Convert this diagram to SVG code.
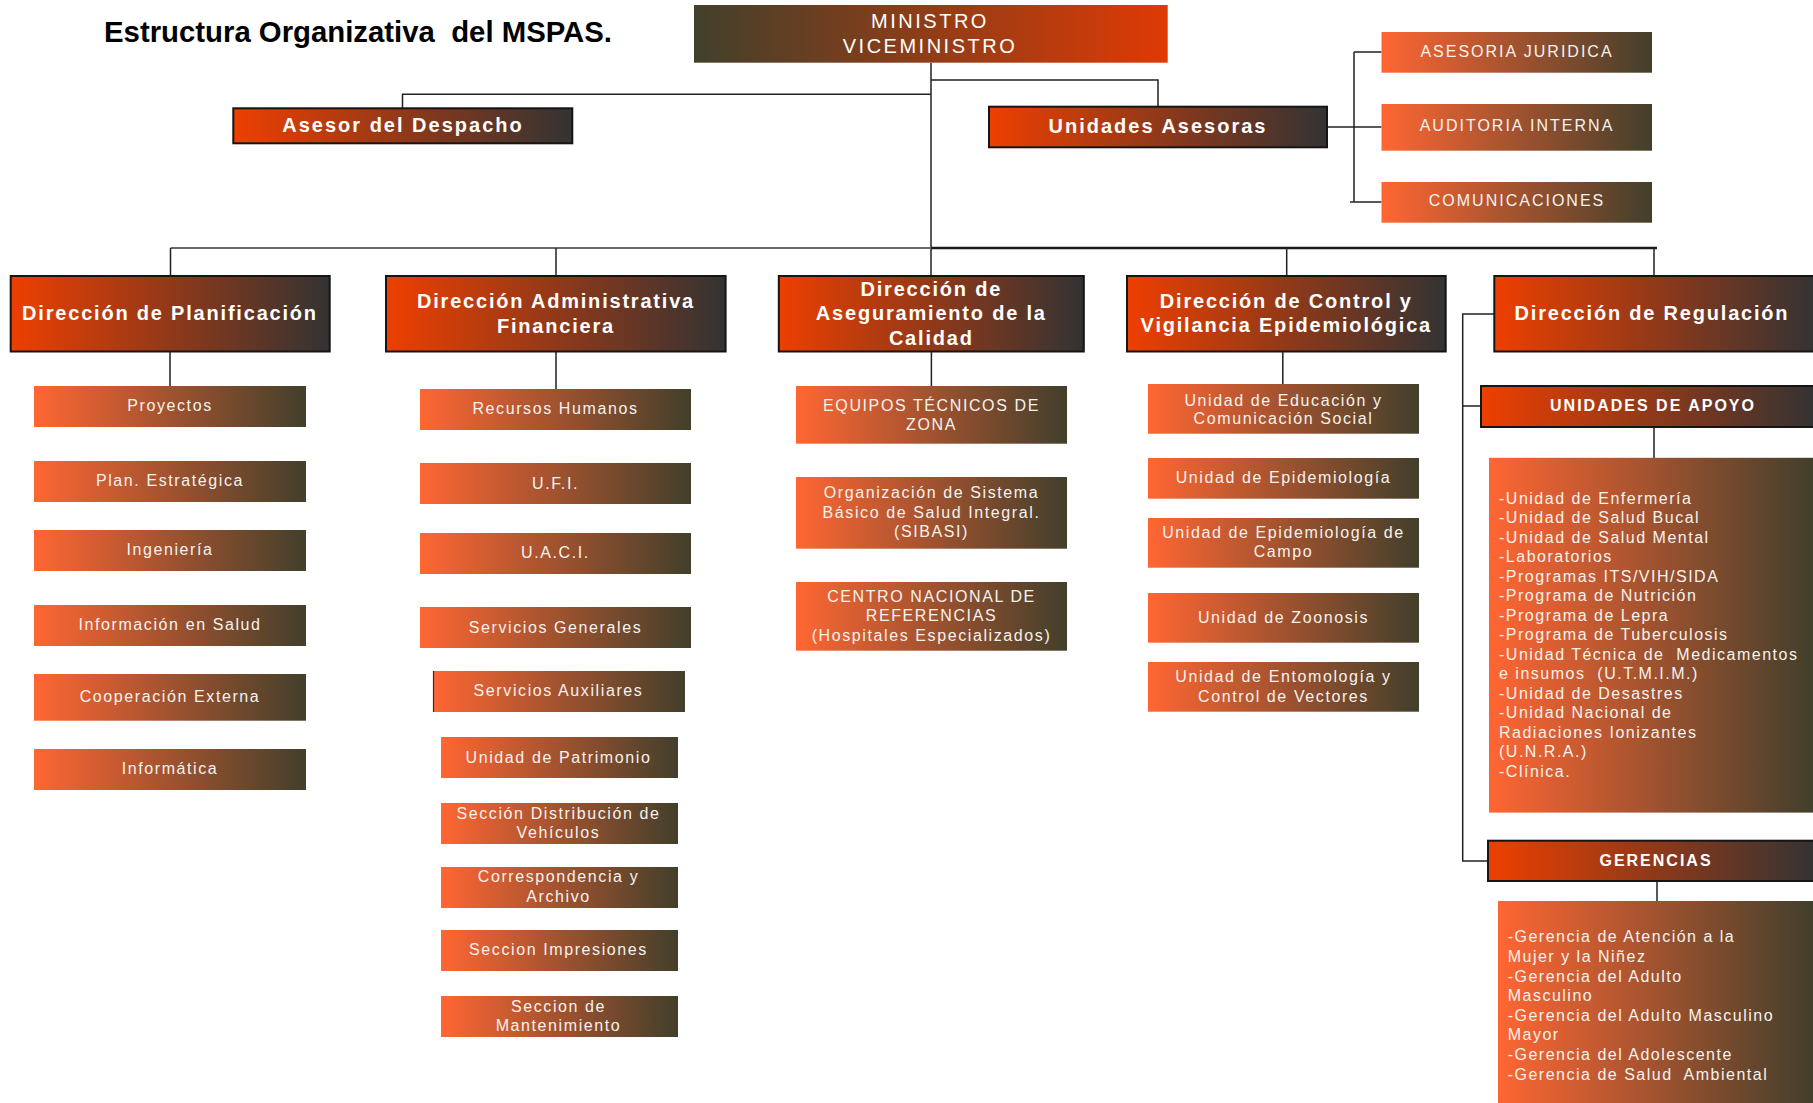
<svg xmlns="http://www.w3.org/2000/svg" width="1813" height="1103" viewBox="0 0 1813 1103">
<defs>
<linearGradient id="gO" x1="0" y1="0" x2="1" y2="0"><stop offset="0" stop-color="#ff6633"/><stop offset="1" stop-color="#423f2b"/></linearGradient>
<linearGradient id="gR" x1="0" y1="0" x2="1" y2="0"><stop offset="0" stop-color="#ee3f00"/><stop offset="1" stop-color="#333333"/></linearGradient>
<linearGradient id="gM" x1="0" y1="0" x2="1" y2="0"><stop offset="0" stop-color="#42402b"/><stop offset="1" stop-color="#df3a04"/></linearGradient>
<style>
text{font-family:"Liberation Sans",Arial,sans-serif;white-space:pre}
.l3{fill:url(#gO)}
.l2{fill:url(#gR);stroke:#151515;stroke-width:2}
.lm{fill:url(#gM)}
.title{font-size:30px;font-weight:bold;fill:#000}
.tm{font-size:20px;letter-spacing:2.5px;fill:#fff;text-anchor:middle}
.t2{font-size:20px;font-weight:bold;letter-spacing:1.8px;fill:#fff;text-anchor:middle}
.t2b{font-size:20px;font-weight:bold;letter-spacing:2px;fill:#fff;text-anchor:middle}
.tb{font-size:16px;font-weight:bold;letter-spacing:2px;fill:#fff;text-anchor:middle}
.ta{font-size:16px;letter-spacing:2px;fill:#f6f2ee;text-anchor:middle}
.t3{font-size:16px;letter-spacing:1.6px;fill:#f6f2ee;text-anchor:middle}
.tl{font-size:16px;letter-spacing:1.5px;fill:#f6f2ee}
.c{fill:none;stroke:#222;stroke-width:1.5}
</style>
</defs>
<rect width="1813" height="1103" fill="#fff"/>
<text class="title" x="104" y="42" textLength="508" lengthAdjust="spacingAndGlyphs">Estructura Organizativa  del MSPAS.</text>

<g id="connectors">
<path class="c" d="M931,63V276"/>
<path class="c" d="M931,94.3H402.5V108"/>
<path class="c" d="M931,80H1158V107"/>
<path class="c" d="M1327,127H1381.5M1354,52V202M1354,52H1381.5M1350,202H1381.5"/>
<path d="M170.5,248H931" fill="none" stroke="#6a6a6a" stroke-width="2"/>
<path d="M931,248H1657" fill="none" stroke="#1a1a1a" stroke-width="2.5"/>
<path class="c" d="M170.5,248V276M556,248V276M1286.7,248V276M1654,248V276"/>
<path class="c" d="M170,352V386M556,352V389M931.4,352V386M1282.8,352V384"/>
<path class="c" d="M1494,314H1462.7V861H1488M1462.7,406H1481" stroke-width="2"/>
<path class="c" d="M1654,427V458M1657,881V901"/>
</g>

<g id="ministro"><rect class="lm" x="694" y="5" width="473.7" height="57.7"/><text class="tm" x="930" y="27.7">MINISTRO</text><text class="tm" x="930" y="52.7">VICEMINISTRO</text></g>
<g id="asesor-despacho"><rect class="l2" x="233.3" y="108.3" width="339" height="35"/><text class="t2b" x="403" y="131.7">Asesor del Despacho</text></g>
<g id="unidades-asesoras"><rect class="l2" x="989" y="106.7" width="338" height="40.6"/><text class="t2b" x="1158" y="132.7">Unidades Asesoras</text></g>
<g id="asesoria-juridica"><rect class="l3" x="1381.5" y="32" width="270.5" height="40.7"/><text class="ta" x="1517" y="56.7">ASESORIA JURIDICA</text></g>
<g id="auditoria-interna"><rect class="l3" x="1381.5" y="104" width="270.5" height="46.7"/><text class="ta" x="1517" y="131">AUDITORIA INTERNA</text></g>
<g id="comunicaciones"><rect class="l3" x="1381.5" y="182" width="270.5" height="40.7"/><text class="ta" x="1517" y="206">COMUNICACIONES</text></g>

<g id="dir-planificacion"><rect class="l2" x="10.7" y="276" width="319" height="75.5"/><text class="t2" x="170" y="320">Dirección de Planificación</text></g>
<g id="dir-administrativa"><rect class="l2" x="386" y="276" width="339.6" height="75.5"/><text class="t2" x="556" y="308.3">Dirección Administrativa</text><text class="t2" x="556" y="332.7">Financiera</text></g>
<g id="dir-aseguramiento"><rect class="l2" x="778.8" y="276" width="305" height="75.5"/><text class="t2" x="931.3" y="296">Dirección de</text><text class="t2" x="931.3" y="320">Aseguramiento de la</text><text class="t2" x="931.3" y="345">Calidad</text></g>
<g id="dir-control"><rect class="l2" x="1127" y="276" width="318.7" height="75.5"/><text class="t2" x="1286.3" y="308.3">Dirección de Control y</text><text class="t2" x="1286.3" y="331.7">Vigilancia Epidemiológica</text></g>
<g id="dir-regulacion"><rect class="l2" x="1494.3" y="276" width="322" height="75.5"/><text class="t2" x="1652" y="320">Dirección de Regulación</text></g>

<g id="proyectos"><rect class="l3" x="34" y="386" width="272" height="41"/><text class="t3" x="170" y="410.7">Proyectos</text></g>
<g id="plan-estrategica"><rect class="l3" x="34" y="461" width="272" height="41"/><text class="t3" x="170" y="486">Plan. Estratégica</text></g>
<g id="ingenieria"><rect class="l3" x="34" y="530" width="272" height="41"/><text class="t3" x="170" y="554.5">Ingeniería</text></g>
<g id="informacion-salud"><rect class="l3" x="34" y="605" width="272" height="41"/><text class="t3" x="170" y="630">Información en Salud</text></g>
<g id="cooperacion-externa"><rect class="l3" x="34" y="674" width="272" height="46.7"/><text class="t3" x="170" y="702.3">Cooperación Externa</text></g>
<g id="informatica"><rect class="l3" x="34" y="749" width="272" height="41"/><text class="t3" x="170" y="774">Informática</text></g>

<g id="recursos-humanos"><rect class="l3" x="420" y="389" width="271" height="41"/><text class="t3" x="555.5" y="414">Recursos Humanos</text></g>
<g id="ufi"><rect class="l3" x="420" y="463" width="271" height="41"/><text class="t3" x="555.5" y="489">U.F.I.</text></g>
<g id="uaci"><rect class="l3" x="420" y="533" width="271" height="41"/><text class="t3" x="555.5" y="558.3">U.A.C.I.</text></g>
<g id="servicios-generales"><rect class="l3" x="420" y="607" width="271" height="41"/><text class="t3" x="555.5" y="632.7">Servicios Generales</text></g>
<g id="servicios-auxiliares"><rect class="l3" x="433" y="671" width="252" height="41"/><path d="M433.5,671V712" stroke="#3a2a20" stroke-width="1.2"/><text class="t3" x="558.5" y="696">Servicios Auxiliares</text></g>
<g id="patrimonio"><rect class="l3" x="441" y="737" width="237" height="41"/><text class="t3" x="558.5" y="763.3">Unidad de Patrimonio</text></g>
<g id="distribucion-vehiculos"><rect class="l3" x="441" y="803" width="237" height="41"/><text class="t3" x="558.5" y="819.3">Sección Distribución de</text><text class="t3" x="558.5" y="838.3">Vehículos</text></g>
<g id="correspondencia"><rect class="l3" x="441" y="867" width="237" height="41"/><text class="t3" x="558.5" y="882.3">Correspondencia y</text><text class="t3" x="558.5" y="901.7">Archivo</text></g>
<g id="impresiones"><rect class="l3" x="441" y="930" width="237" height="41"/><text class="t3" x="558.5" y="955">Seccion Impresiones</text></g>
<g id="mantenimiento"><rect class="l3" x="441" y="996" width="237" height="41"/><text class="t3" x="558.5" y="1012">Seccion de</text><text class="t3" x="558.5" y="1031">Mantenimiento</text></g>

<g id="equipos-tecnicos"><rect class="l3" x="796" y="386" width="271" height="57.7"/><text class="t3" x="931.5" y="410.7">EQUIPOS TÉCNICOS DE</text><text class="t3" x="931.5" y="430">ZONA</text></g>
<g id="sibasi"><rect class="l3" x="796" y="477" width="271" height="71.7"/><text class="t3" x="931.5" y="498.3">Organización de Sistema</text><text class="t3" x="931.5" y="518.3">Básico de Salud Integral.</text><text class="t3" x="931.5" y="537.3">(SIBASI)</text></g>
<g id="centro-nacional"><rect class="l3" x="796" y="582" width="271" height="68.7"/><text class="t3" x="931.5" y="602.3">CENTRO NACIONAL DE</text><text class="t3" x="931.5" y="621">REFERENCIAS</text><text class="t3" x="931.5" y="641">(Hospitales Especializados)</text></g>

<g id="educacion"><rect class="l3" x="1148" y="384" width="271" height="49.7"/><text class="t3" x="1283.5" y="405.7">Unidad de Educación y</text><text class="t3" x="1283.5" y="424">Comunicación Social</text></g>
<g id="epidemiologia"><rect class="l3" x="1148" y="458" width="271" height="40.7"/><text class="t3" x="1283.5" y="483.3">Unidad de Epidemiología</text></g>
<g id="epidemiologia-campo"><rect class="l3" x="1148" y="518" width="271" height="49.7"/><text class="t3" x="1283.5" y="538.3">Unidad de Epidemiología de</text><text class="t3" x="1283.5" y="557.3">Campo</text></g>
<g id="zoonosis"><rect class="l3" x="1148" y="593" width="271" height="49.7"/><text class="t3" x="1283.5" y="622.7">Unidad de Zoonosis</text></g>
<g id="entomologia"><rect class="l3" x="1148" y="662" width="271" height="49.7"/><text class="t3" x="1283.5" y="681.7">Unidad de Entomología y</text><text class="t3" x="1283.5" y="702">Control de Vectores</text></g>

<g id="unidades-apoyo"><rect class="l2" x="1481" y="386" width="335" height="41"/><text class="tb" x="1653" y="410.7">UNIDADES DE APOYO</text></g>
<g id="lista-apoyo"><rect class="l3" x="1489" y="457.8" width="324" height="354.8"/>
<text class="tl" x="1499" y="503.7">-Unidad de Enfermería</text>
<text class="tl" x="1499" y="523.2">-Unidad de Salud Bucal</text>
<text class="tl" x="1499" y="542.7">-Unidad de Salud Mental</text>
<text class="tl" x="1499" y="562.2">-Laboratorios</text>
<text class="tl" x="1499" y="581.7">-Programas ITS/VIH/SIDA</text>
<text class="tl" x="1499" y="601.2">-Programa de Nutrición</text>
<text class="tl" x="1499" y="620.7">-Programa de Lepra</text>
<text class="tl" x="1499" y="640.2">-Programa de Tuberculosis</text>
<text class="tl" x="1499" y="659.7">-Unidad Técnica de  Medicamentos</text>
<text class="tl" x="1499" y="679.2">e insumos  (U.T.M.I.M.)</text>
<text class="tl" x="1499" y="698.7">-Unidad de Desastres</text>
<text class="tl" x="1499" y="718.2">-Unidad Nacional de</text>
<text class="tl" x="1499" y="737.7">Radiaciones Ionizantes</text>
<text class="tl" x="1499" y="757.2">(U.N.R.A.)</text>
<text class="tl" x="1499" y="776.7">-Clínica.</text>
</g>
<g id="gerencias"><rect class="l2" x="1488" y="840.7" width="328" height="40.3"/><text class="tb" x="1656" y="865.7">GERENCIAS</text></g>
<g id="lista-gerencias"><rect class="l3" x="1498" y="901" width="315" height="202"/>
<text class="tl" x="1507.7" y="942.3">-Gerencia de Atención a la</text>
<text class="tl" x="1507.7" y="961.9">Mujer y la Niñez</text>
<text class="tl" x="1507.7" y="981.5">-Gerencia del Adulto</text>
<text class="tl" x="1507.7" y="1001.1">Masculino</text>
<text class="tl" x="1507.7" y="1020.7">-Gerencia del Adulto Masculino</text>
<text class="tl" x="1507.7" y="1040.3">Mayor</text>
<text class="tl" x="1507.7" y="1059.9">-Gerencia del Adolescente</text>
<text class="tl" x="1507.7" y="1079.5">-Gerencia de Salud  Ambiental</text>
</g>
</svg>
